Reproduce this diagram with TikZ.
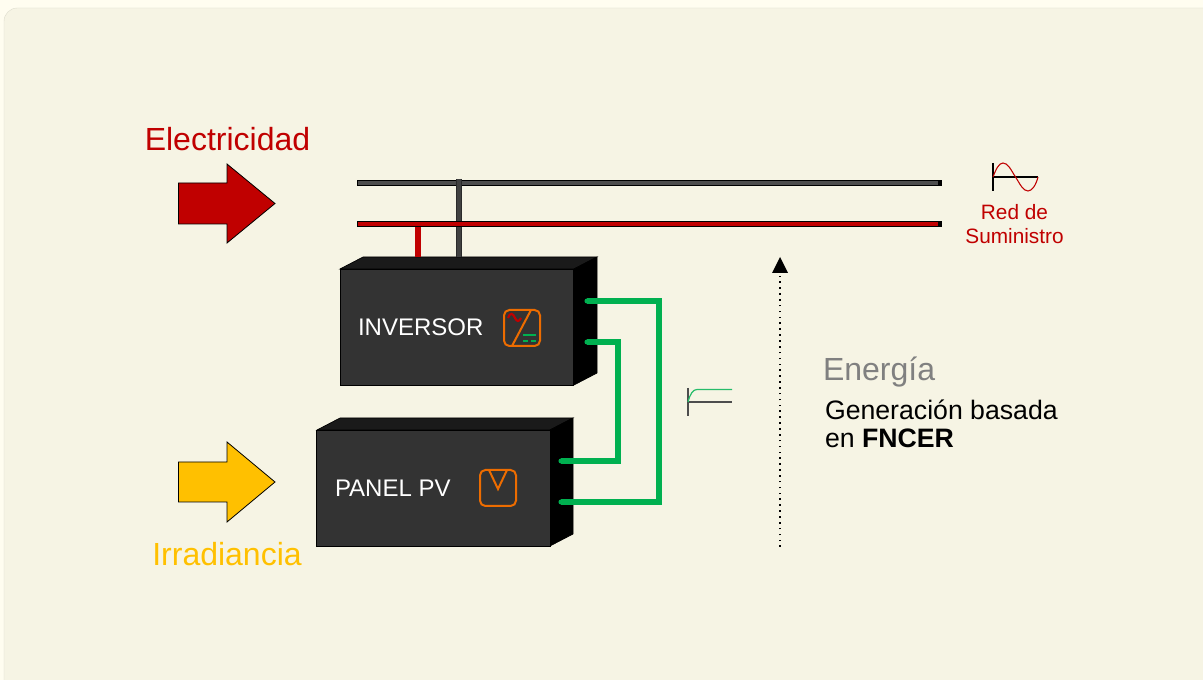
\documentclass[tikz,border=0pt]{standalone}
\usepackage{fontspec}
\setmainfont{Liberation Sans}
\usetikzlibrary{calc}
\definecolor{pagebg}{HTML}{FFFDF0}
\definecolor{panelbg}{HTML}{F6F4E4}
\definecolor{boxfront}{HTML}{333333}
\definecolor{boxtop}{HTML}{1A1A1A}
\definecolor{busgray}{HTML}{4D4D4D}
\definecolor{busred}{HTML}{C00000}
\definecolor{wire}{HTML}{00B050}
\definecolor{iconorange}{HTML}{ED6C00}
\definecolor{irr}{HTML}{FFC000}
\tikzset{
  front/.style={draw=black,line width=0.6pt,fill=boxfront,minimum width=175pt,minimum height=87pt,inner sep=0pt,outer sep=0pt},
  side/.style={draw=black,line width=0.5pt,fill=black},
  topface/.style={draw=black,line width=0.5pt,fill=boxtop},
  busout/.style={draw=black},
  wirepath/.style={draw=wire,line width=3.8pt,line join=miter},
  icon/.style={draw=iconorange,line width=1.5pt,rounded corners=4pt},
  iconline/.style={draw=iconorange,line width=1.5pt},
  bigarrow/.style={draw=black,line width=0.6pt,line join=miter},
  label/.style={inner sep=0pt,outer sep=0pt,text=#1},
  label/.default=black
}
\begin{document}
\begin{tikzpicture}[x=0.75pt,y=-0.75pt]
\useasboundingbox (0,0) rectangle (1203,680);
\fill[pagebg] (0,0) rectangle (1203,680);
\fill[panelbg,rounded corners=10pt] (4,8) rectangle (1230,720);
\draw[draw=panelbg!90!black,line width=0.3pt,rounded corners=10pt] (1230,8) -- (4,8) -- (4,720);
\clip (0,0) rectangle (1203,680);

% big arrows
\draw[bigarrow,fill=busred] (178.5,183) -- (227,183) -- (227,164) -- (275,203.5) -- (227,243) -- (227,224) -- (178.5,224) -- cycle;
\draw[bigarrow,fill=irr] (178.5,462) -- (227,462) -- (227,442) -- (275,482) -- (227,522) -- (227,502) -- (178.5,502) -- cycle;
\node[label=busred,anchor=base,font=\fontsize{24}{24}\selectfont] (lelec) at (227.5,150.5) {Electricidad};
\node[label=irr,anchor=base,font=\fontsize{24}{24}\selectfont] (lirr) at (227,565.5) {Irradiancia};

% boxes
\draw[topface] (340,269) -- (363,257) -- (597,257) -- (574,269) -- cycle;
\draw[side] (574,269) -- (597,257) -- (597,373) -- (574,385) -- cycle;
\node[front] (inv) at (457,327) {};
\draw[topface] (317,430) -- (340,418) -- (573,418) -- (550,430) -- cycle;
\draw[side] (550,430) -- (573,418) -- (573,534) -- (550,546) -- cycle;
\node[front] (pv) at (433.5,488) {};
\node[label=white,anchor=base west,font=\fontsize{18}{18}\selectfont] (tinv) at (358,336) {INVERSOR};
\node[label=white,anchor=base west,font=\fontsize{18}{18}\selectfont] (tpv) at (335,497) {PANEL PV};

% buses
\coordinate (gl) at (357,183); \coordinate (gr) at (942,183);
\coordinate (rl) at (357,224); \coordinate (rr) at (942,224);
\coordinate (gtop) at (459,179); \coordinate (gbot) at (459,257);
\coordinate (rtop) at (418,224); \coordinate (rbot) at (418,257);
\draw[busout,line width=4.8pt,rounded corners=1pt] (gl) -- (gr);
\draw[draw=busgray,line width=3.4pt] ($(gl)+(1,0)$) -- ($(gr)+(-4,0)$);
\draw[line width=5.2pt,draw=black!45!busgray] (gtop) -- (gbot);
\draw[line width=3.6pt,draw=busgray!85!black] (gtop) -- (gbot);
\draw[line width=5.2pt,draw=black] (rtop) -- (rbot);
\draw[line width=3.8pt,draw=busred] (rtop) -- (rbot);
\draw[busout,line width=4.8pt,rounded corners=1pt] (rl) -- (rr);
\draw[draw=busred,line width=3.4pt] ($(rl)+(1,0)$) -- ($(rr)+(-4,0)$);

% green wires
\coordinate (w1a) at (587,301); \coordinate (w1b) at (659,301); \coordinate (w1c) at (659,502); \coordinate (w1d) at (561,502);
\coordinate (w2a) at (587,342); \coordinate (w2b) at (618,342); \coordinate (w2c) at (618,461); \coordinate (w2d) at (561,461);
\draw[wirepath] (w1a) -- (w1b) -- (w1c) -- (w1d);
\draw[wirepath] (w2a) -- (w2b) -- (w2c) -- (w2d);
\foreach \p in {w1a,w1d,w2a,w2d} \fill[wire] (\p) circle (1.9pt);

% inverter icon
\draw[icon] (504,310) rectangle (540,346);
\draw[iconline] (531,310) -- (512,346);
\draw[draw=busred,line width=1.6pt] (508,318) .. controls (510,312) and (513,313) .. (515,318) .. controls (517,322) and (519,322) .. (521,318);
\draw[draw=wire,line width=1.6pt] (523,335) -- (536,335);
\draw[draw=wire,line width=1.6pt] (523,341) -- (528,341);
\draw[draw=wire,line width=1.6pt] (531,341) -- (536,341);

% panel icon
\draw[icon] (480,470) rectangle (516,506);
\draw[iconline,line join=miter] (489,470) -- (498,489) -- (507,470);

% DC symbol
\draw[draw=busgray,line width=1pt] (688,388) -- (688,416);
\draw[draw=busgray,line width=1pt] (688,402) -- (732,402);
\draw[draw=wire!85!white,line width=0.9pt] (688,402) .. controls (690,394) and (693,389.5) .. (697,389.5) -- (732,389.5);

% AC symbol
\draw[draw=black,line width=0.8pt] (993,163) -- (993,191);
\draw[draw=black,line width=0.8pt] (993,177) -- (1038,177);
\draw[draw=busred,line width=0.8pt] (993,177) .. controls (996,169) and (999,163) .. (1003,163) .. controls (1008,163) and (1011,170) .. (1015.5,177) .. controls (1020,184) and (1023,191) .. (1028,191) .. controls (1032,191) and (1036,185) .. (1038,177);
\node[label=busred,anchor=base,font=\fontsize{15.6}{16}\selectfont] (tred1) at (1014.5,220) {Red de};
\node[label=busred,anchor=base,font=\fontsize{15.6}{16}\selectfont] (tred2) at (1014.5,244) {Suministro};

% energy arrow
\coordinate (ea) at (780,547); \coordinate (eb) at (780,272);
\draw[draw=black,line width=1pt,dash pattern=on 1.2pt off 3.2pt] (ea) -- (eb);
\fill[black] (772,273) -- (788,273) -- (780,257) -- cycle;

% text
\node[label=black!50,anchor=base west,font=\fontsize{24}{24}\selectfont] (tene) at (823,380.5) {Energía};
\node[label=black,anchor=base west,font=\fontsize{20}{20}\selectfont] (tgen1) at (825,419.5) {Generación basada};
\node[label=black,anchor=base west,font=\fontsize{20}{20}\selectfont] (tgen2) at (825,448) {en \textbf{FNCER}};
\end{tikzpicture}
\end{document}
